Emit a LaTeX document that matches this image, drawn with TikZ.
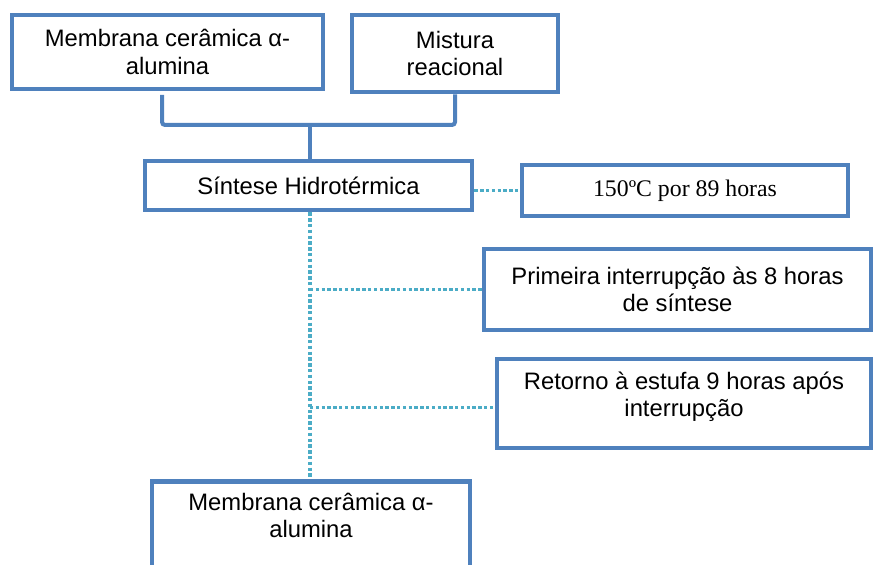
\documentclass[tikz,border=0pt]{standalone}
\usepackage{fontspec}
\setmainfont{Liberation Sans}
\newfontfamily\timesfont{Liberation Serif}
\usetikzlibrary{positioning}
\definecolor{boxblue}{RGB}{79,129,189}
\definecolor{dotblue}{RGB}{75,172,198}
\tikzset{
        % Boxes
        node_box/.style={align=center, rectangle, draw=boxblue, line width=2.35pt, fill=white, inner sep=0pt, font=\fontsize{11.9}{13.6}\selectfont},
        % Box with serif text
        node_box_serif/.style={node_box, font=\timesfont\fontsize{11.9}{13.6}\selectfont},
        % Solid connectors
        line_solid/.style={draw=boxblue, line width=2pt, rounded corners=1.5pt},
        % Dotted connectors
        line_dotted/.style={draw=dotblue, line width=1.6pt, dash pattern=on 1.7pt off 1.2pt}
}

\begin{document}
\begin{tikzpicture}[x=0.5pt, y=-0.5pt]
            \useasboundingbox (0,0) rectangle (873,565);
            \clip (0,0) rectangle (873,565);
            % Inputs
            \node[node_box, minimum width=155.5pt, minimum height=37pt] (membrana) at (167.5,52) {Membrana cerâmica α-\\alumina};
            \node[node_box, minimum width=103pt, minimum height=38.5pt] (mistura) at (455,53.5) {Mistura\\reacional};
            % Synthesis
            \node[node_box, minimum width=163.5pt, minimum height=24.5pt] (sintese) at (308.5,185.5) {Síntese Hidrotérmica};
            \node[node_box_serif, minimum width=163pt, minimum height=25.5pt] (condicao) at (685,190.5) {150ºC por 89 horas};
            \node[node_box, minimum width=193.5pt, minimum height=40.5pt] (interrupcao) at (677.5,289.5) {Primeira interrupção às 8 horas\\de síntese};
            \node[node_box, minimum width=187pt, minimum height=44.5pt, text depth=9.5pt] (retorno) at (684,403.5) {Retorno à estufa 9 horas após\\interrupção};
            % Product
            \node[node_box, minimum width=159pt, anchor=north, inner ysep=6pt, text depth=30pt] (produto) at (311,479) {Membrana cerâmica α-\\alumina};

            \coordinate (juncao) at (310,125);
            \coordinate (membrana_out) at (162,95);
            \coordinate (retorno_in) at ([yshift=-2pt]retorno.west);
            \draw[line_solid] (membrana_out) |- (juncao) -| (mistura.south);
            \draw[line_solid] (juncao) -- (juncao |- sintese.north);
            \draw[line_dotted] (condicao.west -| sintese.east) -- (condicao.west);
            \draw[line_dotted] (juncao |- sintese.south) -- (juncao |- produto.north);
            \draw[line_dotted] (juncao |- interrupcao.west) -- (interrupcao.west);
            \draw[line_dotted] (retorno_in -| juncao) -- (retorno_in);
        \end{tikzpicture}
\end{document}
